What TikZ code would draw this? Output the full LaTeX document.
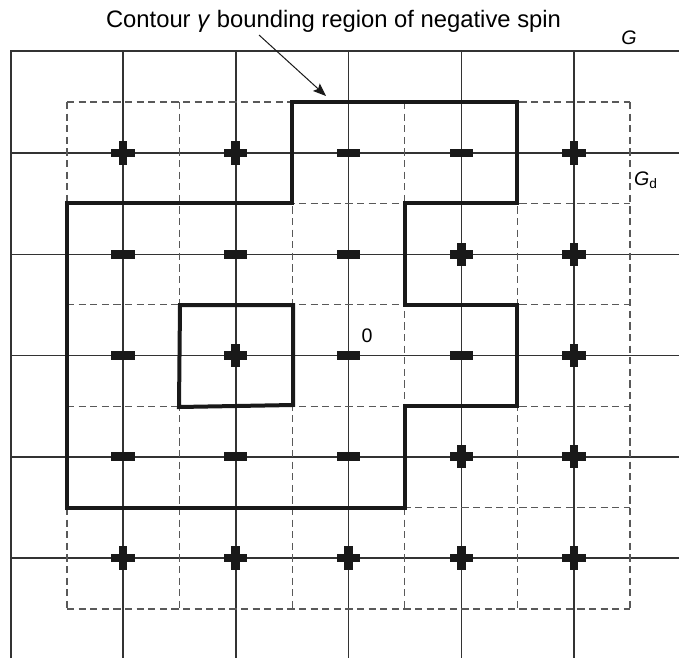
\documentclass[tikz,border=0pt]{standalone}
\usepackage{fontspec}
\setmainfont{Liberation Sans}
\usetikzlibrary{arrows.meta,positioning}

\begin{document}
\begin{tikzpicture}[
    x=0.5pt, y=-0.5pt,
    gridline/.style={black!80, line width=0.75pt},
    dualline/.style={black!65, line width=0.6pt, dash pattern=on 3.6pt off 2.2pt},
    contour/.style={black!90, line width=2pt, line join=miter},
    spinbar/.style={rectangle, fill=black!90, inner sep=0pt,
                    minimum width=11.6pt, minimum height=4.3pt},
    title/.style={font=\fontsize{11.9}{14}\selectfont},
    lbl/.style={font=\fontsize{9.8}{12}\selectfont, inner sep=0pt},
    pointer/.style={-{Stealth[length=6.5pt,width=5pt,inset=1.2pt]}, line width=0.5pt, black!90},
  ]
    \useasboundingbox (0,0) rectangle (679,658);

    % lattice G
    \draw[gridline] (11,658) -- (11,51) -- (679,51);
    \foreach \c in {0,...,4}
      \draw[gridline] (123+112.75*\c,51) -- (123+112.75*\c,658);
    \foreach \r in {0,...,4}
      \draw[gridline] (11,153+101.25*\r) -- (679,153+101.25*\r);

    % dual lattice G_d
    \foreach \k in {0,...,5} {
      \draw[dualline] (67+112.6*\k,102) -- (67+112.6*\k,609);
      \draw[dualline] (67,102+101.4*\k) -- (630,102+101.4*\k);
    }

    % contour gamma
    \draw[contour] (292.2,102) -- (517.4,102) -- (517.4,203.4) -- (404.8,203.4)
      -- (404.8,304.8) -- (517.4,304.8) -- (517.4,406.2) -- (404.8,406.2)
      -- (404.8,507.6) -- (67,507.6) -- (67,203.4) -- (292.2,203.4) -- cycle;
    \draw[contour] (180,305) -- (293,305) -- (293,405) -- (179,407) -- cycle;

    % spins
    \foreach \c/\r in {0/0,1/0,4/0,3/1,4/1,1/2,4/2,3/3,4/3,0/4,1/4,2/4,3/4,4/4} {
      \node[spinbar] (s\c\r) at (123+112.75*\c,153+101.25*\r) {};
      \node[spinbar, rotate=90] at (s\c\r) {};
    }
    \foreach \c/\r in {2/0,3/0,0/1,1/1,2/1,0/2,2/2,3/2,0/3,1/3,2/3}
      \node[spinbar] (s\c\r) at (123+112.75*\c,153+101.25*\r) {};

    % labels
    \node[title] (caption) at (333.5,21) {Contour \textit{γ} bounding region of negative spin};
    \node[lbl] (gname) at (629,38) {\textit{G}};
    \node[lbl] (gdname) at (646,180) {\textit{G}\textsubscript{d}};
    \node[lbl] (origin) at (367,336) {0};

    \coordinate (tail) at (259,35);
    \coordinate (tip) at (326,96);
    \draw[pointer] (tail) -- (tip);
\end{tikzpicture}
\end{document}
